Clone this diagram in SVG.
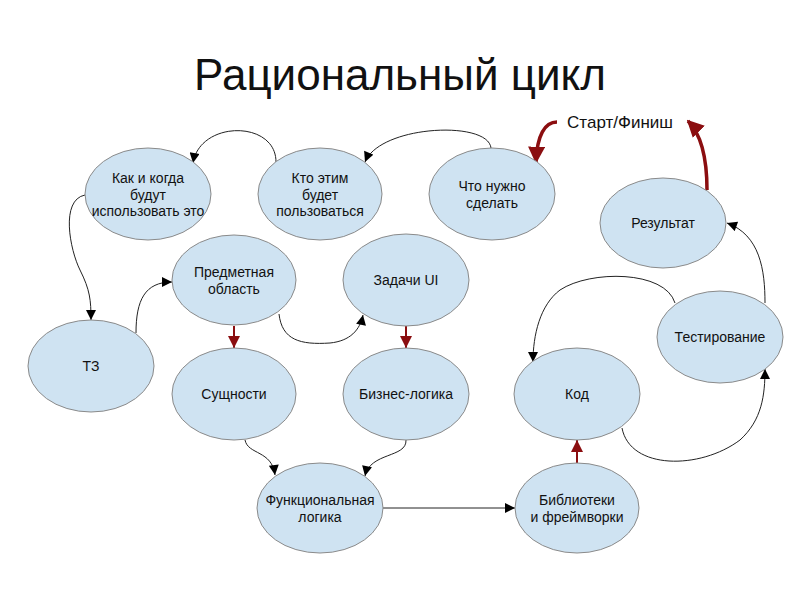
<svg xmlns="http://www.w3.org/2000/svg" width="800" height="600" viewBox="0 0 800 600">
<style>
.n ellipse{fill:#cfe3f2;stroke:#8a8a8a;stroke-width:1}
.n text{font-family:"Liberation Sans",Arial,sans-serif;font-size:14px;fill:#111;text-anchor:middle}
.c{fill:none;stroke:#222;stroke-width:1}
.r{fill:none;stroke:#8b0e10;stroke-width:2}
.rt{fill:none;stroke:#8b0e10;stroke-width:3.5}
</style>
<defs>
<marker id="a" viewBox="0 0 10 10" refX="10" refY="5" markerWidth="11" markerHeight="10" markerUnits="userSpaceOnUse" orient="auto"><path d="M0,0 L10,5 L0,10 z" fill="#000"/></marker>
<marker id="ar" viewBox="0 0 10 10" refX="10" refY="5" markerWidth="13" markerHeight="12" markerUnits="userSpaceOnUse" orient="auto"><path d="M0,0 L10,5 L0,10 z" fill="#8b0e10"/></marker>
<marker id="art" viewBox="0 0 10 10" refX="9" refY="5" markerWidth="17" markerHeight="17" markerUnits="userSpaceOnUse" orient="auto"><path d="M0,0 L10,5 L0,10 z" fill="#8b0e10"/></marker>
</defs>
<rect width="800" height="600" fill="#fff"/>
<text x="400" y="90" font-family="'Liberation Sans',Arial,sans-serif" font-size="44" text-anchor="middle" fill="#111">Рациональный цикл</text>
<text x="620" y="128" font-family="'Liberation Sans',Arial,sans-serif" font-size="17" text-anchor="middle" fill="#111">Старт/Финиш</text>

<g id="connectors">
<path class="c" marker-end="url(#a)" d="M276,162 C276,120 200,120 193,163"/>
<path class="c" marker-end="url(#a)" d="M491,148 C488,120 380,125 365,162"/>
<path class="c" marker-end="url(#a)" d="M85,195 C60,200 70,250 80,270 C90,290 91,300 91,320"/>
<path class="c" marker-end="url(#a)" d="M136,333 C136,300 145,282 172,282"/>
<path class="c" marker-end="url(#a)" d="M279,314 C282,340 300,345 330,343 C350,341 360,330 363,315"/>
<path class="r" marker-end="url(#ar)" d="M234,326 L234,348"/>
<path class="r" marker-end="url(#ar)" d="M406,326 L406,348"/>
<path class="c" marker-end="url(#a)" d="M245,440 C248,455 272,450 275,475"/>
<path class="c" marker-end="url(#a)" d="M406,440 C407,458 370,452 365,476"/>
<path class="c" marker-end="url(#a)" d="M383,508 L515,508"/>
<path class="r" marker-end="url(#ar)" d="M577,463 L577,440"/>
<path class="c" marker-end="url(#a)" d="M622,428 C630,470 700,470 740,440 C762,420 765,395 765,369"/>
<path class="c" marker-end="url(#a)" d="M675,303 C665,270 590,270 560,290 C540,305 533,335 533,362"/>
<path class="c" marker-end="url(#a)" d="M765,303 C765,270 760,235 727,223"/>
<path class="rt" marker-end="url(#art)" d="M707,190 C707,160 702,135 688,121"/>
<path class="rt" marker-end="url(#art)" d="M557,122 C545,122 537,135 536,162"/>
</g>

<g id="n1" class="n"><ellipse cx="148" cy="194" rx="63" ry="46"/><text x="148" y="183">Как и когда</text><text x="148" y="199.5">будут</text><text x="148" y="216">использовать это</text></g>
<g id="n2" class="n"><ellipse cx="320" cy="194" rx="62" ry="46"/><text x="320" y="183">Кто этим</text><text x="320" y="199.5">будет</text><text x="320" y="216">пользоваться</text></g>
<g id="n3" class="n"><ellipse cx="492" cy="194" rx="63" ry="46"/><text x="492" y="191">Что нужно</text><text x="492" y="207.5">сделать</text></g>
<g id="n4" class="n"><ellipse cx="663" cy="223" rx="63" ry="45"/><text x="663" y="228">Результат</text></g>
<g id="n5" class="n"><ellipse cx="234" cy="280" rx="62" ry="45"/><text x="234" y="277">Предметная</text><text x="234" y="293.5">область</text></g>
<g id="n6" class="n"><ellipse cx="406" cy="280" rx="63" ry="46"/><text x="406" y="285">Задачи UI</text></g>
<g id="n7" class="n"><ellipse cx="91" cy="366" rx="63" ry="46"/><text x="91" y="371">ТЗ</text></g>
<g id="n8" class="n"><ellipse cx="234" cy="394" rx="62" ry="46"/><text x="234" y="399">Сущности</text></g>
<g id="n9" class="n"><ellipse cx="406" cy="394" rx="63" ry="46"/><text x="406" y="399">Бизнес-логика</text></g>
<g id="n10" class="n"><ellipse cx="577" cy="394" rx="63" ry="46"/><text x="577" y="399">Код</text></g>
<g id="n11" class="n"><ellipse cx="720" cy="337" rx="63" ry="46"/><text x="720" y="342">Тестирование</text></g>
<g id="n12" class="n"><ellipse cx="320" cy="508" rx="63" ry="45"/><text x="320" y="505">Функциональная</text><text x="320" y="521.5">логика</text></g>
<g id="n13" class="n"><ellipse cx="577" cy="508" rx="62" ry="45"/><text x="577" y="505">Библиотеки</text><text x="577" y="521.5">и фреймворки</text></g>
</svg>
